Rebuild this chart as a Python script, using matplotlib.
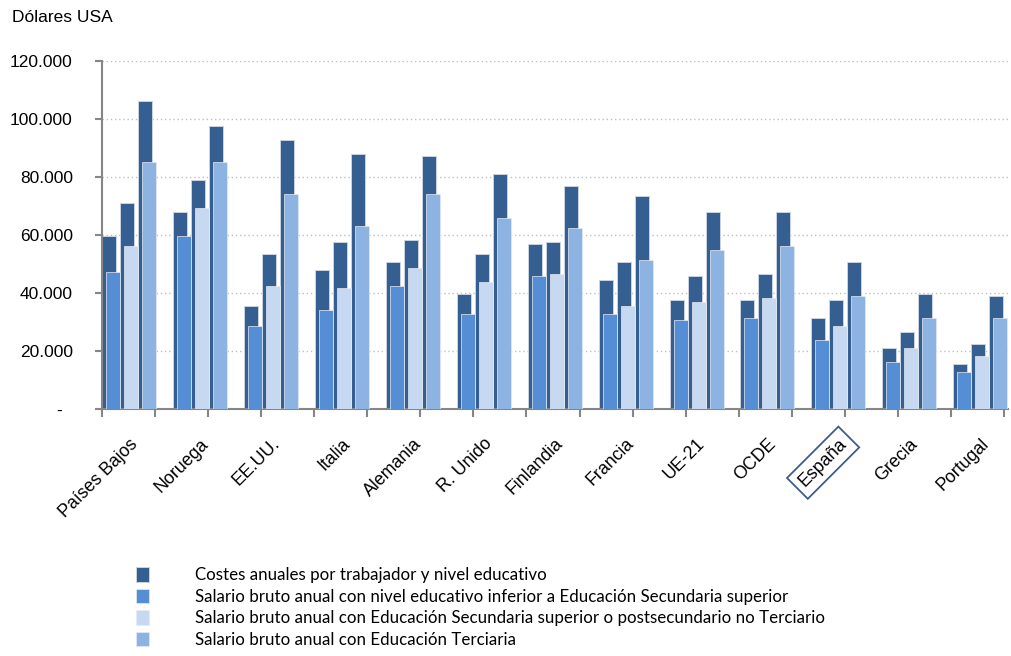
import numpy as np
import matplotlib
matplotlib.use("Agg")
import matplotlib.pyplot as plt
from matplotlib.ticker import FuncFormatter

# Datos (dólares USA)
paises = ['Países Bajos', 'Noruega', 'EE.UU.', 'Italia', 'Alemania', 'R. Unido',
          'Finlandia', 'Francia', 'UE-21', 'OCDE', 'España', 'Grecia', 'Portugal']

coste_inf = [59500, 67800, 35500, 47800, 50700, 39600, 56900, 44400, 37600, 37600, 31400, 21000, 15500]
coste_sec = [71000, 79000, 53400, 57500, 58300, 53400, 57600, 50700, 45900, 46500, 37600, 26500, 22400]
coste_ter = [106300, 97600, 92600, 87900, 87200, 81000, 76900, 73400, 67900, 67900, 50700, 39700, 39000]

sal_inf = [47200, 59600, 28600, 34100, 42400, 32800, 45900, 32800, 30700, 31400, 23800, 16200, 12800]
sal_sec = [56200, 69300, 42400, 41700, 48600, 43800, 46600, 35500, 36900, 38300, 28600, 21000, 18300]
sal_ter = [85200, 85200, 74100, 63100, 74100, 65900, 62400, 51400, 54800, 56200, 39000, 31400, 31400]

etiquetas = ['Costes anuales por trabajador y nivel educativo',
             'Salario bruto anual con nivel educativo inferior a Educación Secundaria superior',
             'Salario bruto anual con Educación Secundaria superior o postsecundario no Terciario',
             'Salario bruto anual con Educación Terciaria']

c_coste = '#365F91'
c_sal = ['#558ED5', '#C6D9F1', '#8DB3E2']

plt.rcParams['font.family'] = ['Liberation Sans', 'DejaVu Sans']

fig = plt.figure(figsize=(10.11, 6.56), dpi=100)
ax = fig.add_axes([102 / 1011, 1 - 409 / 656, 906 / 1011, 348 / 656])

x = np.arange(len(paises))
u = 70.94          # px por país
w = 14 / u         # ancho de barra
off_coste = np.array([-20, -2, 16]) / u
off_sal = np.array([-16, 2, 20]) / u

# Barras de costes (detrás)
barras_coste = []
for k, vals in enumerate([coste_inf, coste_sec, coste_ter]):
    b = ax.bar(x + off_coste[k], vals, w, color=c_coste, edgecolor='#C9D3E0',
               linewidth=0.7, zorder=2)
    barras_coste.append(b)

# Barras de salario (delante)
barras_sal = []
for k, vals in enumerate([sal_inf, sal_sec, sal_ter]):
    b = ax.bar(x + off_sal[k], vals, w, color=c_sal[k], edgecolor='#E6ECF4',
               linewidth=0.5, zorder=3)
    barras_sal.append(b)

x0 = -27 / u
ax.set_xlim(x0, x0 + 906 / u)
ax.set_ylim(0, 120000)

# Ejes
for s in ['top', 'right']:
    ax.spines[s].set_visible(False)
for s in ['left', 'bottom']:
    ax.spines[s].set_color('#868686')
    ax.spines[s].set_linewidth(1.5)

ax.set_yticks(np.arange(0, 120001, 20000))
ax.yaxis.set_major_formatter(FuncFormatter(
    lambda v, p: '-  ' if v == 0 else f'{int(v):,}'.replace(',', '.')))
ax.tick_params(axis='y', length=5, width=1.5, color='#868686', pad=16,
               labelsize=12.5)
ax.grid(axis='y', color='#BFBFBF', linestyle=(0, (1, 2)), linewidth=1, zorder=0)
ax.set_axisbelow(True)

# marcas del eje x (no coinciden con los países)
ax.set_xticks(x0 + np.arange(18) * 53.06 / u)
ax.set_xticklabels([])
ax.tick_params(axis='x', which='major', length=6, width=1.5, color='#868686')
ax.set_xticks(x, minor=True)
labs = ax.set_xticklabels(paises, minor=True, rotation=45, ha='right',
                          va='top', rotation_mode='anchor', fontsize=12.8)
ax.tick_params(axis='x', which='minor', length=0, pad=19)
labs[10].set_text('        España')
labs[10].set_bbox(dict(boxstyle='square,pad=0.35', facecolor='none',
                       edgecolor='#3B5E8C', linewidth=1.3))

fig.text(12 / 1011, 1 - 18 / 656, 'Dólares USA', fontsize=12.5, va='center')

handles = [barras_coste[0]] + barras_sal
ax.legend(handles, etiquetas, loc='upper left', bbox_to_anchor=(136 / 1011, 1 - 567 / 656),
          bbox_transform=fig.transFigure, frameon=False, prop={'family': 'Lato', 'size': 12.2},
          handlelength=0.75, handleheight=0.95, handletextpad=2.75, labelspacing=0.32,
          borderpad=0, borderaxespad=0)

plt.savefig('out.png', dpi=100)
plt.close()
